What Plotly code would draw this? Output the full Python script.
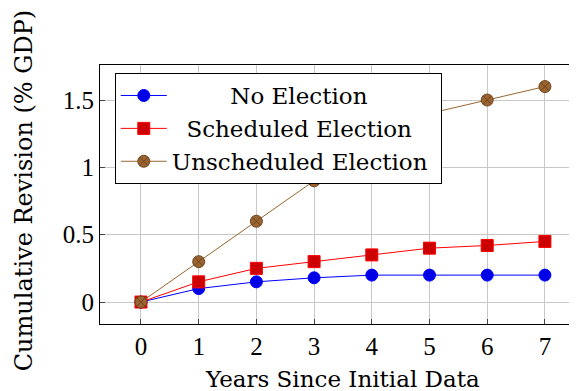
import plotly.graph_objects as go

years = [0, 1, 2, 3, 4, 5, 6, 7]
no_election = [0, 0.10, 0.15, 0.18, 0.20, 0.20, 0.20, 0.20]
scheduled = [0, 0.15, 0.25, 0.30, 0.35, 0.40, 0.42, 0.45]
unscheduled = [0, 0.30, 0.60, 0.90, 1.20, 1.40, 1.50, 1.60]
x_ticks = [0, 1, 2, 3, 4, 5, 6, 7]
y_ticks = [0, 0.5, 1, 1.5]
y_tick_text = ["0", "0.5", "1", "1.5"]
series_names = ["No Election", "Scheduled Election", "Unscheduled Election"]

FONT = "DejaVu Serif"
TICKFONT = "Liberation Serif"
NB = "\u00a0"

fig = go.Figure()
fig.add_trace(go.Scatter(
    x=years, y=no_election, mode="lines+markers", name=NB * 8 + series_names[0],
    line=dict(color="#0000ff", width=1),
    marker=dict(symbol="circle", size=12, color="#0000e6", line=dict(color="#0000ff", width=1)),
))
fig.add_trace(go.Scatter(
    x=years, y=scheduled, mode="lines+markers", name=NB * 2 + series_names[1],
    line=dict(color="#ff0000", width=1),
    marker=dict(symbol="square", size=12, color="#cc0000", line=dict(color="#ff0000", width=1)),
))
fig.add_trace(go.Scatter(
    x=years, y=unscheduled, mode="lines+markers", name=series_names[2] + NB,
    line=dict(color="#99662f", width=1),
    marker=dict(symbol="circle-x", size=12, color="#9a6330", line=dict(color="#6e4620", width=1)),
))

fig.update_layout(
    width=569, height=383,
    margin=dict(l=92, r=0, t=57, b=67, autoexpand=False),
    plot_bgcolor="white", paper_bgcolor="white",
    font=dict(family=FONT, size=23, color="black"),
    showlegend=True,
    legend=dict(
        x=0.031, y=0.969, xanchor="left", yanchor="top",
        bgcolor="white", bordercolor="black", borderwidth=1,
        font=dict(family=FONT, size=23), itemwidth=46,
        tracegroupgap=0,
    ),
    xaxis=dict(
        range=[-0.71, 7.556], tickvals=x_ticks, ticktext=[str(t) for t in x_ticks],
        showgrid=True, gridcolor="#c8c8c8", gridwidth=1, automargin=False,
        showline=True, linecolor="black", linewidth=1, mirror=True,
        ticks="inside", ticklen=5, tickcolor="#444", zeroline=False,
        tickfont=dict(family=TICKFONT, size=25),
    ),
    yaxis=dict(
        range=[-0.163, 1.76], tickvals=y_ticks, ticktext=y_tick_text,
        showgrid=True, gridcolor="#c8c8c8", gridwidth=1, automargin=False,
        showline=True, linecolor="black", linewidth=1, mirror=False,
        ticks="inside", ticklen=5, tickcolor="#444", zeroline=False,
        tickfont=dict(family=TICKFONT, size=25),
    ),
    annotations=[
        dict(text="Years Since Initial Data", xref="paper", yref="paper",
             x=0.509, y=-0.214, xanchor="center", yanchor="middle",
             showarrow=False, font=dict(family=FONT, size=23)),
        dict(text="Cumulative Revision (% GDP)", xref="paper", yref="paper",
             x=-0.159, y=0.517, xanchor="center", yanchor="middle", textangle=-90,
             showarrow=False, font=dict(family=FONT, size=24)),
    ],
)

fig.write_html("out.html")
